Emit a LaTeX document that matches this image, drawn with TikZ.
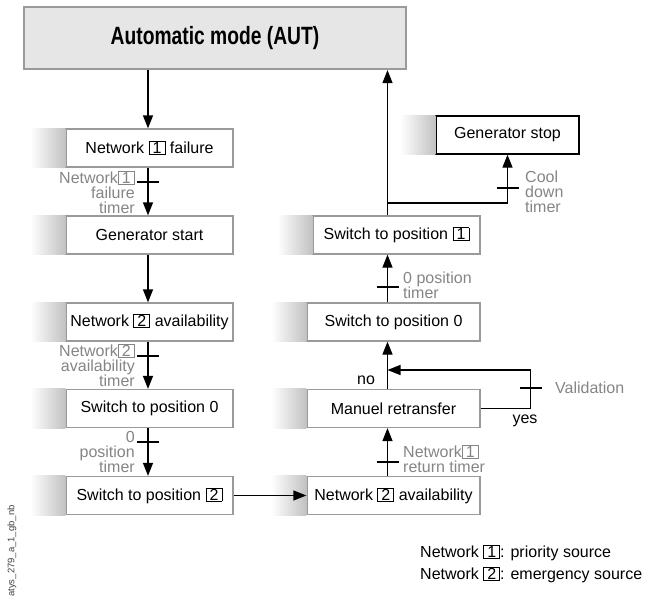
\documentclass[tikz,border=0pt]{standalone}
\usepackage{fontspec}
\setmainfont{Liberation Sans}
\newfontfamily\titlefont[FakeStretch=0.77]{Liberation Sans Bold}
\usetikzlibrary{arrows.meta}
\definecolor{boxline}{HTML}{9A9A9A}
\definecolor{titlefill}{HTML}{E6E6E6}
\definecolor{labelgray}{HTML}{858585}
% boxed network number
\newcommand\nb[1]{{\setlength\fboxsep{0.6pt}\setlength\fboxrule{0.9pt}\fbox{\kern2.5pt#1\kern2.5pt}}}

\begin{document}
\begin{tikzpicture}[x=1pt,y=-1pt,
  stepbox/.style={draw=boxline,line width=1.3pt,fill=white,minimum height=38pt,
    inner sep=0pt,font=\fontsize{16}{19}\selectfont},
  leftbox/.style={stepbox,minimum width=167pt},
  rightbox/.style={stepbox,minimum width=173pt},
  flow/.style={line width=1.3pt,-{Triangle[length=13pt,width=10pt]}},
  tickmark/.style={line width=1.1pt},
  timer/.style={text=labelgray,font=\fontsize{16}{15}\selectfont,inner sep=0pt},
  plain/.style={font=\fontsize{16}{19}\selectfont,inner sep=0pt},
  shadowfill/.style={left color=white,right color=black!24},
]
\useasboundingbox (0,0) rectangle (653,605);

% title box
\node[draw=boxline,line width=2.2pt,fill=titlefill,minimum width=382pt,minimum height=62pt,
  inner sep=0pt,font=\titlefont\fontsize{25}{30}\selectfont] (aut) at (215,38) {Automatic mode (AUT)};

% left column
\node[leftbox] (b1) at (149.5,148) {Network \nb{1} failure};
\node[leftbox] (b2) at (149.5,235) {Generator start};
\node[leftbox] (b3) at (149.5,322) {Network \nb{2} availability};
\node[leftbox] (b4) at (149.5,408.5) {Switch to position 0};
\node[leftbox] (b5) at (149.5,495.5) {Switch to position \nb{2}};

% right column
\node[stepbox,minimum width=167pt] (r1) at (396.5,235) {Switch to position \nb{1}};
\node[rightbox] (r2) at (393.5,322) {Switch to position 0};
\node[rightbox] (r3) at (393.5,408.5) {Manuel retransfer};
\node[rightbox] (r4) at (393.5,495.5) {Network \nb{2} availability};
\node[stepbox,draw=black,minimum width=143pt] (gs) at (507.5,135) {Generator stop};

% soft shadows on the left of the boxes
\foreach \n in {b1,b2,b3,b4,b5,r1,r2,r3,r4,gs}
  \shade[shadowfill] ([xshift=-35pt]\n.north west) rectangle (\n.south west);

% connector lanes
\coordinate (L) at (148,0);
\coordinate (R) at (387.5,0);
\coordinate (split) at (387.5,203);
\coordinate (vcorner) at (530.5,370);

% left column flow
\draw[flow] (aut.south -| L) -- (b1.north -| L);
\draw[flow] (b1.south -| L) -- (b2.north -| L);
\draw[flow] (b2.south -| L) -- (b3.north -| L);
\draw[flow] (b3.south -| L) -- (b4.north -| L);
\draw[flow] (b4.south -| L) -- (b5.north -| L);
\draw[flow] (b5.east) -- (r4.west);

% right column flow
\draw[flow] (r4.north -| R) -- (r3.south -| R);
\draw[flow] (r3.north -| R) -- (r2.south -| R);
\draw[flow] (r2.north -| R) -- (r1.south -| R);
\draw[flow] (r1.north -| R) -- (aut.south -| R);
\draw[flow] (r3.east) -| (vcorner) -- (vcorner -| R);
\draw[flow] (split) -| (gs.south);

% timer ticks
\foreach \x/\y in {148/182,148/356,148/442,387.5/287,387.5/462,507.5/188,530.5/388}
  \draw[tickmark] (\x-11,\y) -- (\x+11,\y);

% timer labels
\node[timer,anchor=east,align=right] (t1) at (135,192) {Network\nb{1}\\failure\\timer};
\node[timer,anchor=east,align=right] (t2) at (135,365) {Network\nb{2}\\availability\\timer};
\node[timer,anchor=east,align=right] (t3) at (135,452) {0\\position\\timer};
\node[timer,anchor=west,align=left] (t4) at (403,285) {0 position\\timer};
\node[timer,anchor=west,align=left] (t5) at (403,459) {Network\nb{1}\\return timer};
\node[timer,anchor=west,align=left] (t6) at (525,192) {Cool\\down\\timer};
\node[timer,anchor=west] (t7) at (555,388) {Validation};
\node[plain] (yes) at (525,421) {yes};
\node[plain] (no) at (366,380) {no};

% legend
\node[plain,anchor=west,align=left,font=\fontsize{16}{22}\selectfont] (legend) at (420,564)
  {Network \nb{1}: priority source\\Network \nb{2}: emergency source};

% drawing reference
\node[rotate=90,font=\fontsize{9.5}{11}\selectfont,text=black!75,inner sep=0pt] (ref) at (12,551) {atys\_279\_a\_1\_gb\_nb};
\end{tikzpicture}
\end{document}
